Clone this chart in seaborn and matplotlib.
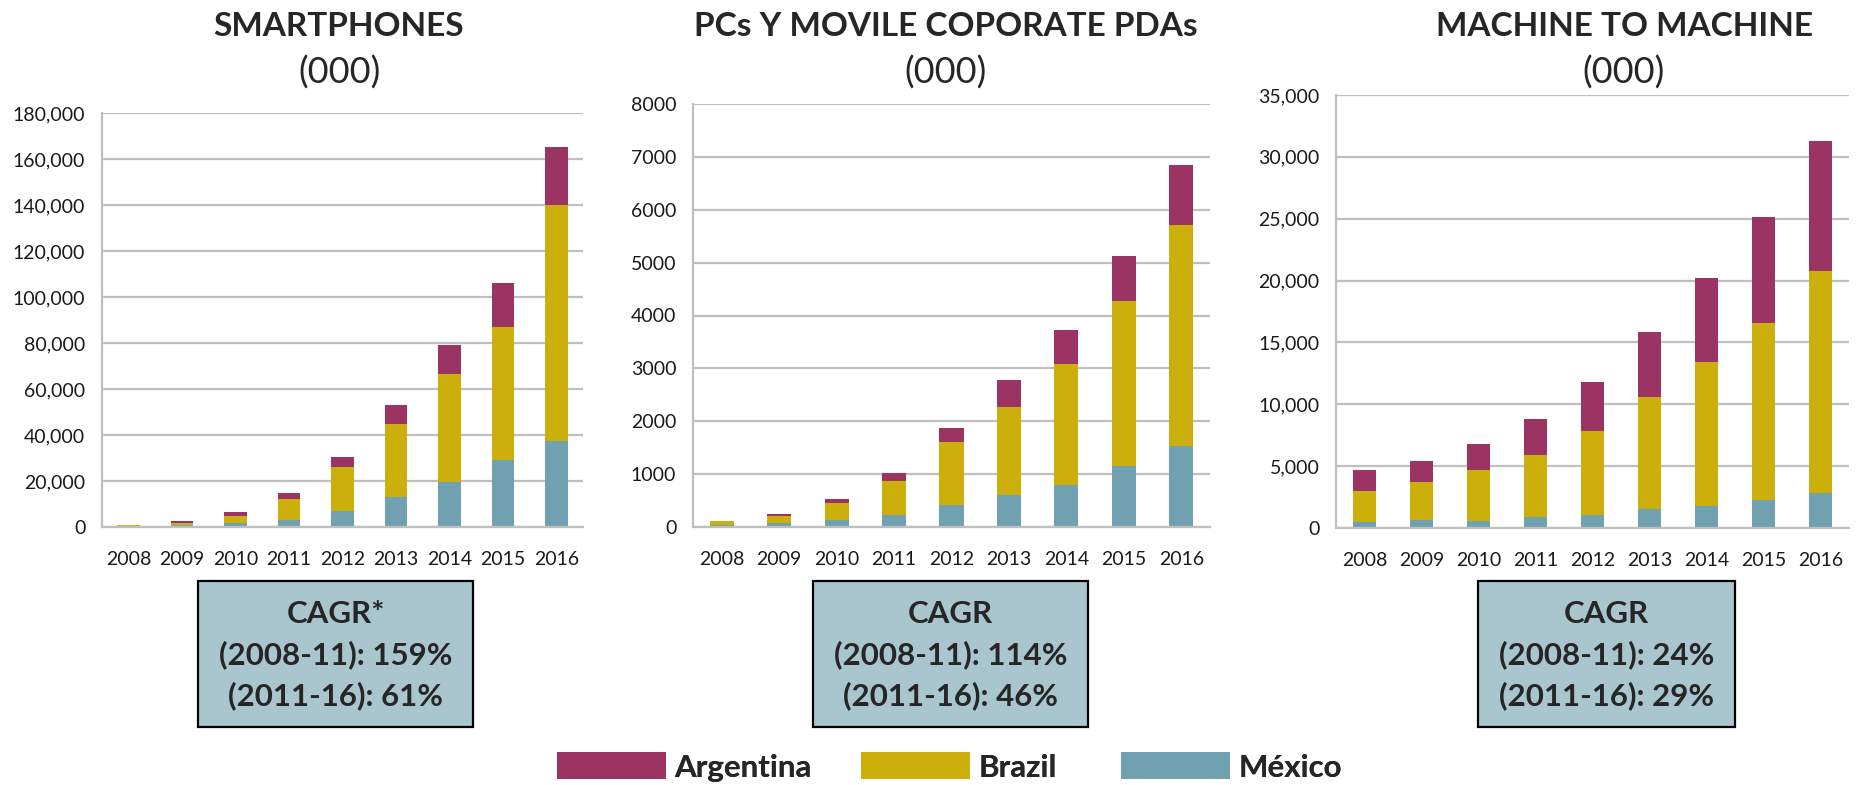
import numpy as np
import pandas as pd
import matplotlib
matplotlib.use("Agg")
import matplotlib.pyplot as plt
import seaborn as sns
from matplotlib.ticker import FuncFormatter, MultipleLocator, FixedLocator
from matplotlib.patches import Rectangle

# data (thousands of units)
years = ["2008", "2009", "2010", "2011", "2012", "2013", "2014", "2015", "2016"]
countries = ["Argentina", "Brazil", "México"]
colors = ["#9B3363", "#CDAF0B", "#6FA1B0"]

smart_mexico = [200, 1000, 1700, 3000, 7000, 13000, 19700, 29200, 37400]
smart_brazil = [700, 700, 3100, 9200, 19100, 31700, 46800, 57700, 102500]
smart_argentina = [100, 900, 1700, 2600, 4300, 8300, 12600, 19100, 25200]

pcs_mexico = [30, 70, 140, 233, 422, 600, 800, 1160, 1538]
pcs_brazil = [75, 145, 320, 643, 1192, 1676, 2289, 3120, 4180]
pcs_argentina = [5, 40, 75, 152, 265, 510, 643, 851, 1134]

m2m_mexico = [460, 620, 540, 860, 1020, 1510, 1750, 2230, 2800]
m2m_brazil = [2500, 3060, 4110, 5080, 6860, 9110, 11690, 14360, 17980]
m2m_argentina = [1690, 1700, 2100, 2900, 3950, 5240, 6780, 8540, 10480]

titles = ["SMARTPHONES", "PCs Y MOVILE COPORATE PDAs", "MACHINE TO MACHINE"]
cagr_texts = [
    ["CAGR*", "(2008-11): 159%", "(2011-16): 61%"],
    ["CAGR", "(2008-11): 114%", "(2011-16): 46%"],
    ["CAGR", "(2008-11): 24%", "(2011-16): 29%"],
]
ymax = [180000, 8000, 35000]
ystep = [20000, 1000, 5000]
use_commas = [True, False, True]


def stacked_frame(mex, bra, arg):
    mex, bra, arg = np.array(mex), np.array(bra), np.array(arg)
    cum = {"México": mex, "Brazil": mex + bra, "Argentina": mex + bra + arg}
    rows = []
    for c in countries:
        for y, v in zip(years, cum[c]):
            rows.append({"year": y, "country": c, "cum": v})
    return pd.DataFrame(rows)


frames = [
    stacked_frame(smart_mexico, smart_brazil, smart_argentina),
    stacked_frame(pcs_mexico, pcs_brazil, pcs_argentina),
    stacked_frame(m2m_mexico, m2m_brazil, m2m_argentina),
]

sns.set_style("white")
plt.rcParams["font.family"] = ["Lato", "DejaVu Sans"]

W, H = 1864, 785
fig = plt.figure(figsize=(W / 100, H / 100), dpi=100)

# axes boxes in pixels: left, top, right, bottom
ax_px = [(102, 113, 583, 527), (693, 104, 1210, 527), (1336, 95, 1849, 528)]
title_x = [339, 946, 1624]
box_px = [(198, 473), (813, 1088), (1478, 1735)]
legend_x = [557, 861, 1121]
grey = "#BFBFBF"

axes = []
for i, (l, t, r, b) in enumerate(ax_px):
    ax = fig.add_axes([l / W, 1 - b / H, (r - l) / W, (b - t) / H])
    sns.barplot(data=frames[i], x="year", y="cum", hue="country",
                hue_order=countries, palette=colors, dodge=False,
                width=0.42, saturation=1, errorbar=None, linewidth=0, ax=ax)
    ax.get_legend().remove()
    ax.set_xlim(-0.5, 8.5)
    ax.set_ylim(0, ymax[i])
    ax.yaxis.set_major_locator(MultipleLocator(ystep[i]))
    if use_commas[i]:
        ax.yaxis.set_major_formatter(FuncFormatter(lambda v, p: f"{v:,.0f}"))
    else:
        ax.yaxis.set_major_formatter(FuncFormatter(lambda v, p: f"{v:.0f}"))
    ax.set_xlabel("")
    ax.set_ylabel("")
    ax.yaxis.grid(True, color=grey, lw=1.6)
    ax.set_axisbelow(True)
    for s in ["top", "right"]:
        ax.spines[s].set_visible(False)
    for s in ["left", "bottom"]:
        ax.spines[s].set_color(grey)
        ax.spines[s].set_linewidth(1.6)
    ax.xaxis.set_minor_locator(FixedLocator(np.arange(-0.5, 9, 1)))
    ax.tick_params(axis="x", which="major", length=0, pad=17, labelsize=14, colors="#1a1a1a")
    ax.tick_params(axis="x", which="minor", length=6, width=1.4, color=grey)
    ax.tick_params(axis="y", length=0, pad=12, labelsize=14, colors="#1a1a1a")
    axes.append(ax)

    fig.text(title_x[i] / W, 1 - 26 / H, titles[i], ha="center", va="center",
             fontsize=24, fontweight="bold")
    fig.text(title_x[i] / W, 1 - 73 / H, "(000)", ha="center", va="center",
             fontsize=26)

    x0, x1 = box_px[i]
    fig.add_artist(Rectangle((x0 / W, 1 - 727 / H), (x1 - x0) / W, 146 / H,
                             transform=fig.transFigure, facecolor="#A9C6CF",
                             edgecolor="black", lw=1.6))
    for txt, yy in zip(cagr_texts[i], [614, 655, 696]):
        fig.text((x0 + x1) / 2 / W, 1 - yy / H, txt, ha="center", va="center",
                 fontsize=22.5, fontweight="bold")

# one legend entry per country, placed like the original slide
handles, labels = axes[0].get_legend_handles_labels()
for h, lab, lx in zip(handles, labels, legend_x):
    leg = fig.legend([h], [lab], loc="center left",
                     bbox_to_anchor=(lx / W, 1 - 767 / H), frameon=False,
                     prop={"size": 22.5, "weight": "bold"}, borderpad=0,
                     borderaxespad=0, handlelength=3.5, handleheight=0.95,
                     handletextpad=0.25)
    fig.add_artist(leg)

fig.savefig("out.png", dpi=100)
